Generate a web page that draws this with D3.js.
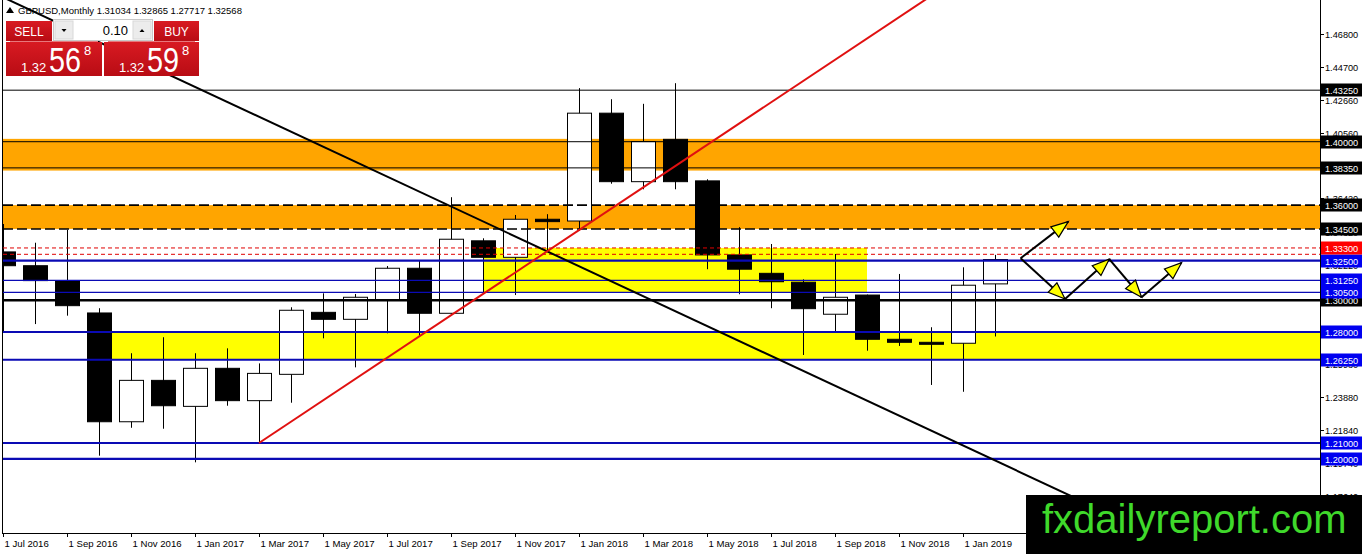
<!DOCTYPE html>
<html><head><meta charset="utf-8">
<script src="https://cdn.jsdelivr.net/npm/d3@7"></script>
<style>
body{margin:0;background:#fff;overflow:hidden}
svg{display:block}
text{font-family:"Liberation Sans",Arial,sans-serif}
</style>
</head><body>
<svg id="c" width="1362" height="554"></svg>
<script>
// ---------------- DATA ----------------
const months = ["2016-07","2016-08","2016-09","2016-10","2016-11","2016-12",
  "2017-01","2017-02","2017-03","2017-04","2017-05","2017-06","2017-07","2017-08","2017-09","2017-10","2017-11","2017-12",
  "2018-01","2018-02","2018-03","2018-04","2018-05","2018-06","2018-07","2018-08","2018-09","2018-10","2018-11","2018-12",
  "2019-01","2019-02"];
const open  = [1.3305,1.3218,1.3124,1.2920,1.2234,1.2495,1.2331,1.2571,1.2367,1.2533,1.2924,1.2880,1.3000,1.3202,1.2918,1.3375,1.3271,1.3511,
  1.3500,1.4180,1.3748,1.4015,1.3753,1.3286,1.3170,1.3114,1.2912,1.3033,1.2754,1.2735,1.2729,1.31034];
const high  = [1.3481,1.3363,1.3444,1.2950,1.2666,1.2767,1.2666,1.2697,1.2602,1.2956,1.3044,1.3040,1.3216,1.3254,1.3650,1.3391,1.3538,1.3543,
  1.4338,1.4268,1.4239,1.4369,1.3763,1.3461,1.3355,1.3132,1.3292,1.3036,1.3166,1.2830,1.3208,1.32865];
const low   = [1.2798,1.2850,1.2903,1.2020,1.2196,1.2190,1.1978,1.2335,1.2098,1.2354,1.2760,1.2577,1.2792,1.2770,1.2905,1.3044,1.3033,1.3307,
  1.3439,1.3735,1.3700,1.3700,1.3196,1.3038,1.2950,1.2655,1.2802,1.2682,1.2712,1.2466,1.2423,1.27717];
const close = [1.3218,1.3124,1.2966,1.2234,1.2495,1.2335,1.2571,1.2367,1.2539,1.2937,1.2880,1.3019,1.3202,1.2918,1.3385,1.3271,1.3511,1.3496,
  1.4180,1.3748,1.4001,1.3748,1.3286,1.3196,1.3117,1.2947,1.3019,1.2754,1.2735,1.2726,1.3095,1.32568];

const dateTickIndex  = [0,2,4,6,8,10,12,14,16,18,20,22,24,26,28,30];
const dateTickLabels = ["1 Jul 2016","1 Sep 2016","1 Nov 2016","1 Jan 2017","1 Mar 2017","1 May 2017","1 Jul 2017","1 Sep 2017",
  "1 Nov 2017","1 Jan 2018","1 Mar 2018","1 May 2018","1 Jul 2018","1 Sep 2018","1 Nov 2018","1 Jan 2019"];
const priceTicks = [1.4680,1.4470,1.4266,1.4056,1.3846,1.3642,1.3432,1.3222,1.3018,1.2808,1.2598,1.2388,1.2184,1.1974,1.1764];

// horizontal levels
const blackThinLevels  = [1.4325,1.4000,1.3835];
const blackThickLevels = [1.3000];
const dashedLevels     = [1.3600,1.3450];
const redDottedLevels  = [1.3330,1.3290];
const blueThickLevels  = [1.3250,1.2800,1.2625,1.2100,1.2000];
const blueThinLevels   = [1.3125,1.3050];

// price labels on the right axis
const labelPrices = [1.4325,1.4000,1.3835,1.3600,1.3450,1.3330,1.3250,1.3125,1.3050,1.3000,1.2800,1.2625,1.2100,1.2000];
const labelKinds  = ["black","black","black","black","black","red","blue","blue","blue","black","blue","blue","blue","blue"];

// zones: [startIndex, endIndex(null = edge), priceTop, priceBottom]
const orangeZones = [[null,null,1.4018,1.3818],[null,null,1.3600,1.3450]];
const yellowZones = [[15,27,1.3330,1.3050],[3,null,1.2800,1.2625]];

// trend lines: two anchor points each [index, price]
const redTrend   = [[8,1.2100],[28,1.4785]];   // ray starting at first anchor
const blackTrend = [[0,1.4911],[30,1.2084]];   // full line

// projection arrows
const upArrow   = [[31.8,1.3265],[33.29,1.3496]];
const zigArrows = [[31.8,1.3265],[33.19,1.3008],[34.57,1.3259],[35.58,1.3019],[36.83,1.3237]];

const header = {symbol:"GBPUSD,Monthly", o:"1.31034", h:"1.32865", l:"1.27717", c:"1.32568"};
const sellQuote = {big:"1.32", pips:"56", frac:"8"};
const buyQuote  = {big:"1.32", pips:"59", frac:"8"};
const lotSize = "0.10";

// ---------------- LAYOUT ----------------
const W = 1362, H = 554;
const plot = {left:3, right:1320, top:0, bottom:533};
const x = d3.scaleLinear().domain([0, (plot.right-plot.left)/32]).range([plot.left, plot.right]);
const y = d3.scaleLinear().domain([1.15324, 1.48937]).range([plot.bottom, plot.top]);
const bodyW = 25;

const svg = d3.select("#c");
svg.append("rect").attr("width",W).attr("height",H).attr("fill","#fff");
const defs = svg.append("defs");
defs.append("clipPath").attr("id","clip").append("rect")
  .attr("x",plot.left).attr("y",plot.top).attr("width",plot.right-plot.left).attr("height",plot.bottom-plot.top);
const g = svg.append("g").attr("clip-path","url(#clip)");

const xMaxIdx = x.domain()[1];
const zx0 = d => x(d[0]==null ? -1 : d[0]);
const zx1 = d => x(d[1]==null ? xMaxIdx+1 : d[1]);
// zones
g.selectAll(".oz").data(orangeZones).join("rect")
  .attr("x",zx0).attr("width",d=>zx1(d)-zx0(d))
  .attr("y",d=>y(d[2])).attr("height",d=>y(d[3])-y(d[2])).attr("fill","#ffa500");
g.selectAll(".yz").data(yellowZones).join("rect")
  .attr("x",zx0).attr("width",d=>zx1(d)-zx0(d))
  .attr("y",d=>y(d[2])).attr("height",d=>y(d[3])-y(d[2])).attr("fill","#ffff00");

// candles
const bars = months.map((m,i)=>({i,o:open[i],h:high[i],l:low[i],c:close[i]}));
g.selectAll(".wick").data(bars).join("line")
  .attr("x1",d=>Math.round(x(d.i))+0.5).attr("x2",d=>Math.round(x(d.i))+0.5)
  .attr("y1",d=>y(d.h)).attr("y2",d=>y(d.l)).attr("stroke","#000").attr("stroke-width",1);
g.selectAll(".body").data(bars).join("rect")
  .attr("x",d=>Math.round(x(d.i))-12+0.5).attr("width",bodyW-1)
  .attr("y",d=>y(Math.max(d.o,d.c))).attr("height",d=>Math.max(2,y(Math.min(d.o,d.c))-y(Math.max(d.o,d.c))))
  .attr("fill",d=>d.c>=d.o?"#fff":"#000").attr("stroke","#000").attr("stroke-width",1);

// horizontal lines
function hlines(arr, stroke, width, dash){
  g.append("g").selectAll("line").data(arr).join("line")
    .attr("x1",plot.left).attr("x2",plot.right)
    .attr("y1",d=>y(d)).attr("y2",d=>y(d))
    .attr("stroke",stroke).attr("stroke-width",width).attr("stroke-dasharray",dash||null);
}
hlines(blackThinLevels,"#000",1);
hlines(dashedLevels,"#000",1.6,"10,4");
hlines(redDottedLevels,"#e00000",1,"4,3");
hlines(blueThinLevels,"#0a0ab4",1.2);
hlines(blueThickLevels,"#0a0ab4",2.2);
hlines(blackThickLevels,"#000",2.4);

// trend lines
function trend(pts, color, ray){
  const [[i1,p1],[i2,p2]] = pts;
  const k = (p2-p1)/(i2-i1);
  const a = ray ? i1 : -1, b = xMaxIdx+1;
  g.append("line").attr("x1",x(a)).attr("y1",y(p1+k*(a-i1)))
    .attr("x2",x(b)).attr("y2",y(p1+k*(b-i1)))
    .attr("stroke",color).attr("stroke-width",2);
}
trend(blackTrend,"#000",false);
trend(redTrend,"#e01010",true);

// arrows
function arrow(p0,p1){
  const x0=x(p0[0]), y0=y(p0[1]), x1=x(p1[0]), y1=y(p1[1]);
  g.append("line").attr("x1",x0).attr("y1",y0).attr("x2",x1).attr("y2",y1)
    .attr("stroke","#000").attr("stroke-width",2);
  const ang = Math.atan2(y1-y0,x1-x0), L=17, Wd=6.5;
  const bx = x1-L*Math.cos(ang), by = y1-L*Math.sin(ang);
  const px = -Math.sin(ang)*Wd, py = Math.cos(ang)*Wd;
  g.append("path").attr("d",`M${x1},${y1}L${bx+px},${by+py}L${bx-px},${by-py}Z`)
    .attr("fill","#ffff00").attr("stroke","#000").attr("stroke-width",1.2);
}
arrow(upArrow[0],upArrow[1]);
for(let k=0;k<zigArrows.length-1;k++) arrow(zigArrows[k],zigArrows[k+1]);

// ---------------- AXES ----------------
const ax = svg.append("g");
ax.append("line").attr("x1",plot.right+0.5).attr("x2",plot.right+0.5).attr("y1",0).attr("y2",plot.bottom).attr("stroke","#000");
ax.append("line").attr("x1",plot.left-1).attr("x2",plot.right+1).attr("y1",plot.bottom+0.5).attr("y2",plot.bottom+0.5).attr("stroke","#000");
ax.append("line").attr("x1",2.5).attr("x2",2.5).attr("y1",0).attr("y2",plot.bottom).attr("stroke","#000");

// price ticks
const pt = ax.append("g").selectAll("g").data(priceTicks).join("g")
  .attr("transform",d=>`translate(0,${Math.round(y(d))+0.5})`);
pt.append("line").attr("x1",plot.right).attr("x2",plot.right+4).attr("stroke","#000");
pt.append("text").attr("x",plot.right+5).attr("y",3.5).attr("font-size",9.2).attr("fill","#000")
  .text(d=>d.toFixed(5));

// level labels
const kindFill = {black:"#000", red:"#ff0000", blue:"#0000f0"};
const lab = labelPrices.map((p,i)=>({p,k:labelKinds[i]})).sort((a,b)=>a.p-b.p);
const lg = ax.append("g").selectAll("g").data(lab).join("g")
  .attr("transform",d=>`translate(0,${Math.round(y(d.p))})`);
lg.append("rect").attr("x",plot.right+1).attr("y",-6.5).attr("width",W-plot.right).attr("height",13)
  .attr("fill",d=>kindFill[d.k]);
lg.append("text").attr("x",plot.right+5).attr("y",4).attr("font-size",9.2).attr("fill","#fff")
  .text(d=>d.p.toFixed(5));

// date ticks
const dt = ax.append("g").selectAll("g").data(dateTickIndex).join("g")
  .attr("transform",d=>`translate(${Math.round(x(d))+0.5},${plot.bottom})`);
dt.append("line").attr("y1",0).attr("y2",4).attr("stroke","#000");
dt.append("text").attr("x",1).attr("y",14).attr("font-size",9.6).attr("fill","#000")
  .text((d,i)=>dateTickLabels[i]);

// ---------------- HEADER & PANEL ----------------
svg.append("path").attr("d","M6,13L10,7L14,13Z").attr("fill","#000");
svg.append("text").attr("x",18).attr("y",14).attr("font-size",9.5).attr("fill","#000")
  .text(`${header.symbol}  ${header.o} ${header.h} ${header.l} ${header.c}`);

const gr = defs.append("linearGradient").attr("id","redg").attr("x1",0).attr("x2",0).attr("y1",0).attr("y2",1);
gr.append("stop").attr("offset","0%").attr("stop-color","#d81a22");
gr.append("stop").attr("offset","100%").attr("stop-color","#b80c14");

const panel = svg.append("g");
panel.append("rect").attr("x",6).attr("y",21).attr("width",46).attr("height",20).attr("fill","url(#redg)");
panel.append("text").attr("x",29).attr("y",35.5).attr("text-anchor","middle").attr("font-size",12).attr("fill","#fff").text("SELL");
panel.append("rect").attr("x",154).attr("y",21).attr("width",45).attr("height",20).attr("fill","url(#redg)");
panel.append("text").attr("x",176.5).attr("y",35.5).attr("text-anchor","middle").attr("font-size",12).attr("fill","#fff").text("BUY");
panel.append("rect").attr("x",53.5).attr("y",19.5).attr("width",99).attr("height",21).attr("fill","#fff").attr("stroke","#c8c8c8");
panel.append("rect").attr("x",55).attr("y",21).attr("width",18).attr("height",18).attr("fill","#ececec").attr("stroke","#d8d8d8");
panel.append("rect").attr("x",133).attr("y",21).attr("width",18).attr("height",18).attr("fill","#ececec").attr("stroke","#d8d8d8");
panel.append("path").attr("d","M61.5,29L66.5,29L64,32Z").attr("fill","#000");
panel.append("path").attr("d","M139.5,32L144.5,32L142,29Z").attr("fill","#000");
panel.append("text").attr("x",128).attr("y",35).attr("text-anchor","end").attr("font-size",13).attr("fill","#000").text(lotSize);

function quoteBox(x0,w,q){
  panel.append("rect").attr("x",x0).attr("y",42).attr("width",w).attr("height",34).attr("fill","url(#redg)");
  panel.append("line").attr("x1",x0+4).attr("x2",x0+w-4).attr("y1",41.5).attr("y2",41.5).attr("stroke","#e8777c");
  panel.append("text").attr("x",x0+15).attr("y",71.5).attr("font-size",13).attr("fill","#fff").text(q.big);
  panel.append("text").attr("x",x0+43).attr("y",72).attr("font-size",35).attr("fill","#fff")
    .attr("textLength",32).attr("lengthAdjust","spacingAndGlyphs").text(q.pips);
  panel.append("text").attr("x",x0+78).attr("y",55).attr("font-size",13).attr("fill","#fff").text(q.frac);
}
quoteBox(6,96,sellQuote);
quoteBox(104,95,buyQuote);

// ---------------- WATERMARK ----------------
svg.append("rect").attr("x",1026).attr("y",495).attr("width",W-1026).attr("height",H-495).attr("fill","#000");
svg.append("text").attr("x",1042).attr("y",533).attr("font-size",40).attr("fill","#3fd92b").text("fxdailyreport.com");
</script>
</body></html>
